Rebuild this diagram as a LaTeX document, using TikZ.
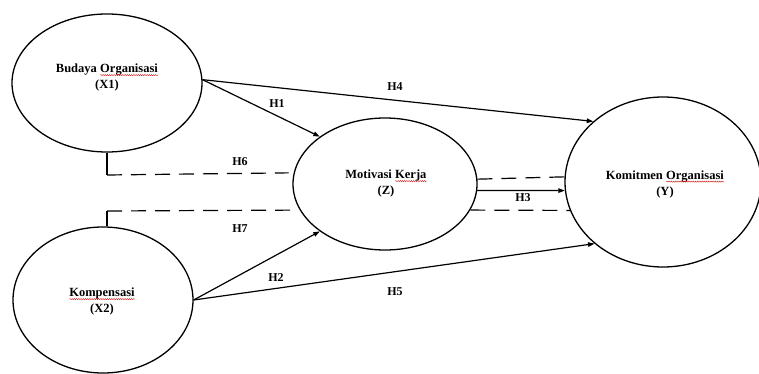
\documentclass[tikz,border=0pt]{standalone}
\usepackage{fontspec}
\setmainfont{Liberation Serif}
\usetikzlibrary{arrows.meta,shapes.geometric,decorations.pathmorphing}
\newcommand\sperr[1]{\tikz[baseline=(sw.base)]{\node[shape=rectangle,draw=none,fill=none,inner sep=0pt,outer sep=0pt,minimum width=0pt,minimum height=0pt,anchor=base] (sw) at (0,0) {#1};\draw[red!85!black,line width=0.35pt,decorate,decoration={snake,amplitude=0.6pt,segment length=2.2pt}] ([yshift=-2.6pt]sw.base west) -- ([yshift=-2.6pt]sw.base east);}}
\begin{document}
\begin{tikzpicture}[x=1pt,y=-1pt,
  lat/.style={draw,line width=1.3pt,shape=ellipse,inner sep=0pt},
  lbl/.style={align=center,font=\bfseries\fontsize{12.5}{16}\selectfont,inner sep=0pt},
  hyp/.style={font=\bfseries\fontsize{12}{14}\selectfont,inner sep=0pt},
  conn/.style={line width=1.2pt,-{Triangle[length=6.5pt,width=4.5pt]}},
  dsh/.style={line width=1.2pt,dash pattern=on 15pt off 9pt},
  sol/.style={line width=1.2pt}]
\useasboundingbox (0,0) rectangle (759,374);
% latent variables
\node[lat,minimum width=190pt,minimum height=138pt] (x1) at (107,83) {};
\node[lat,minimum width=180pt,minimum height=146pt] (x2) at (103,300) {};
\node[lat,minimum width=184pt,minimum height=132pt] (z) at (385,184) {};
\node[lat,minimum width=196pt,minimum height=170pt] (y) at (663,182) {};
% labels
\node[lbl] (x1l) at (107,77.5) {Budaya \sperr{Organisasi}\\(X1)};
\node[lbl] (x2l) at (102,301.5) {\sperr{Kompensasi}\\(X2)};
\node[lbl] (zl) at (386,183.5) {Motivasi \sperr{Kerja}\\(Z)};
\node[lbl] (yl) at (665,184) {Komitmen \sperr{Organisasi}\\(Y)};
% direct paths
\draw[conn] (x1.2) -- (z.144);
\draw[conn] (x1.2) -- (y.139);
\draw[conn] (x2.east) -- (z.216);
\draw[conn] (x2.east) -- (y.222);
\draw[conn] (z.-4) -- (y.185);
% mediation (dashed)
\coordinate (c6) at (107,175);
\coordinate (c7) at (107,211);
\draw[sol] (c6 |- x1.south) -- (c6);
\draw[dsh,shorten >=5pt] (c6) -- (z.173.7);
\draw[sol] (c7 |- x2.north) -- (c7);
\draw[dsh,shorten >=9pt] (c7) -- (z.197);
\draw[dsh] (z.3.7) -- (y.177.6);
\draw[dsh] (z.-17.8) -- (y.197);
% hypothesis labels
\node[hyp] (h1) at (277,104) {H1};
\node[hyp] (h4) at (395,87) {H4};
\node[hyp] (h6) at (240,162) {H6};
\node[hyp] (h7) at (240,229) {H7};
\node[hyp] (h2) at (276,278) {H2};
\node[hyp] (h5) at (395,292) {H5};
\node[hyp] (h3) at (523,198) {H3};
\end{tikzpicture}
\end{document}
